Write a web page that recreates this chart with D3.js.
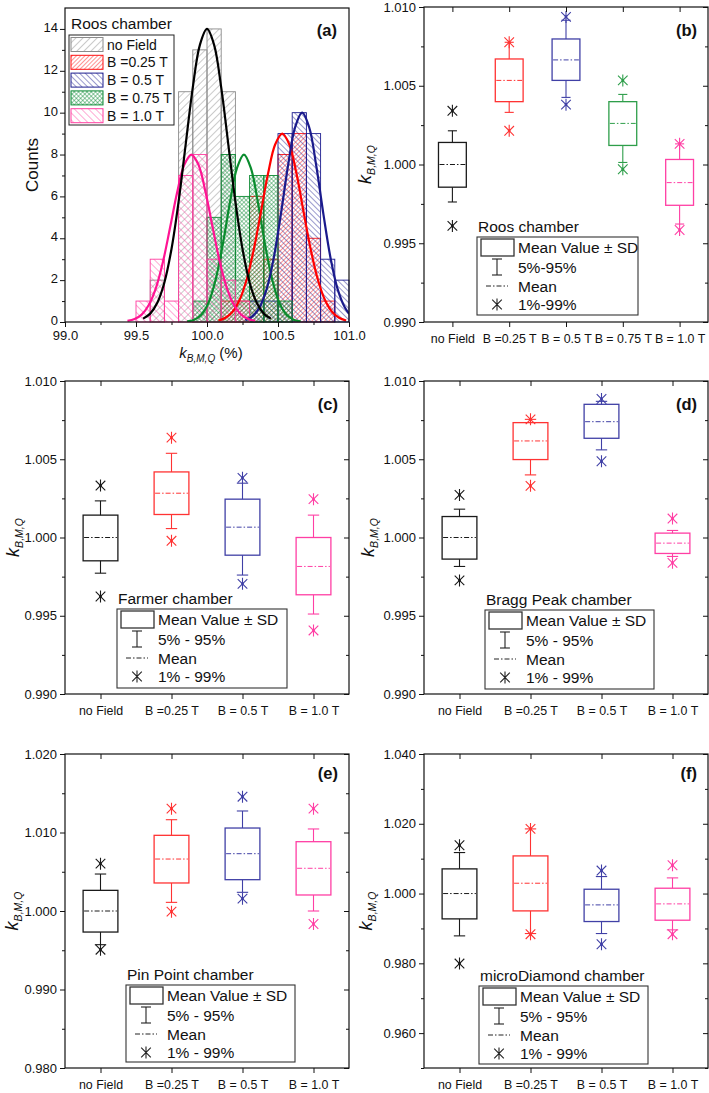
<!DOCTYPE html>
<html><head><meta charset="utf-8">
<script src="https://cdn.jsdelivr.net/npm/d3@7"></script>
<style>
body{margin:0;background:#fff}
svg{display:block}
text{font-family:"Liberation Sans",Arial,Helvetica,sans-serif;fill:#111}
</style>
</head><body>
<svg id="chart" width="709" height="1093"></svg>
<script>
// ================= DATA =================
// ---- (a) histogram, Roos chamber
const histSeries = ["no Field", "B =0.25 T", "B = 0.5 T", "B = 0.75 T", "B = 1.0 T"];
const binStarts = [99.5, 99.6, 99.7, 99.8, 99.9, 100.0, 100.1, 100.2, 100.3, 100.4, 100.5, 100.6, 100.7, 100.8, 100.9];
const binWidth = 0.1;
const countsNoField = [0, 2, 0, 11, 13, 14, 11, 2, 1, 0, 0, 0, 0, 0, 0];
const counts025T   = [0, 0, 0, 0, 0, 0, 1, 1, 6, 3, 8, 9, 4, 1, 0];
const counts05T    = [0, 0, 0, 0, 0, 0, 0, 0, 1, 1, 9, 10, 9, 3, 2];
const counts075T   = [0, 0, 0, 0, 1, 5, 8, 6, 7, 7, 1, 0, 0, 0, 0];
const counts10T    = [1, 3, 1, 7, 8, 3, 2, 1, 0, 0, 0, 0, 0, 0, 0];

// Gaussian fit curves (x in %, y in counts)
const fitXNoField = [99.55,99.60,99.65,99.70,99.75,99.80,99.85,99.90,99.95,100.00,100.05,100.10,100.15,100.20,100.25,100.30,100.35,100.40,100.45];
const fitYNoField = [0.16,0.40,0.92,1.89,3.49,5.75,8.49,11.21,13.24,14.0,13.24,11.21,8.49,5.75,3.49,1.89,0.92,0.40,0.16];
const fitX10T = [99.44,99.49,99.54,99.59,99.64,99.69,99.74,99.79,99.84,99.89,99.94,99.99,100.04,100.09,100.14,100.19,100.24,100.29,100.34];
const fitY10T = [0.05,0.14,0.35,0.81,1.62,2.88,4.51,6.20,7.51,8.0,7.51,6.20,4.51,2.88,1.62,0.81,0.35,0.14,0.05];
const fitX075T = [99.86,99.91,99.96,100.01,100.06,100.11,100.16,100.21,100.26,100.31,100.36,100.41,100.46,100.51,100.56,100.61,100.66];
const fitY075T = [0.03,0.11,0.35,0.91,2.0,3.66,5.65,7.33,8.0,7.33,5.65,3.66,2.0,0.91,0.35,0.11,0.03];
const fitX025T = [100.08,100.13,100.18,100.23,100.28,100.33,100.38,100.43,100.48,100.53,100.58,100.63,100.68,100.73,100.78,100.83,100.88,100.93,100.98];
const fitY025T = [0.07,0.20,0.49,1.06,2.04,3.48,5.27,7.09,8.48,9.0,8.48,7.09,5.27,3.48,2.04,1.06,0.49,0.20,0.07];
const fitX05T = [100.27,100.32,100.37,100.42,100.47,100.52,100.57,100.62,100.67,100.72,100.77,100.82,100.87,100.92,100.97,101.0];
const fitY05T = [0.09,0.27,0.70,1.57,3.06,5.14,7.44,9.29,10.0,9.29,7.44,5.14,3.06,1.57,0.70,0.40];

const histXTicks = [99.0, 99.5, 100.0, 100.5, 101.0];
const histYTicks = [0, 2, 4, 6, 8, 10, 12, 14];

// ---- box panels
const cats5 = ["no Field", "B =0.25 T", "B = 0.5 T", "B = 0.75 T", "B = 1.0 T"];
const cats4 = ["no Field", "B =0.25 T", "B = 0.5 T", "B = 1.0 T"];

// (b) Roos chamber
const roosSdLow  = [0.99856, 1.00399, 1.00534, 1.00121, 0.99741];
const roosSdHigh = [1.00140, 1.00670, 1.00797, 1.00399, 1.00032];
const roosMean   = [1.00000, 1.00534, 1.00664, 1.00261, 0.99885];
const roosP5     = [0.99762, 1.00331, 1.00426, 1.00013, 0.99622];
const roosP95    = [1.00214, 1.00776, 1.00916, 1.00445, 1.00131];
const roosP1     = [0.99610, 1.00214, 1.00380, 0.99970, 0.99584];
const roosP99    = [1.00341, 1.00776, 1.00937, 1.00534, 1.00131];

// (c) Farmer chamber
const farmerSdLow  = [0.99851, 1.00147, 0.99887, 0.99634];
const farmerSdHigh = [1.00143, 1.00419, 1.00245, 1.00000];
const farmerMean   = [1.00000, 1.00283, 1.00066, 0.99815];
const farmerP5     = [0.99772, 1.00057, 0.99760, 0.99511];
const farmerP95    = [1.00234, 1.00538, 1.00347, 1.00143];
const farmerP1     = [0.99623, 0.99979, 0.99704, 0.99406];
const farmerP99    = [1.00332, 1.00638, 1.00381, 1.00245];

// (d) Bragg Peak chamber
const braggSdLow  = [0.99862, 1.00498, 1.00634, 0.99898];
const braggSdHigh = [1.00134, 1.00734, 1.00851, 1.00028];
const braggMean   = [1.00000, 1.00617, 1.00740, 0.99964];
const braggP5     = [0.99815, 1.00400, 1.00560, 0.99879];
const braggP95    = [1.00181, 1.00755, 1.00870, 1.00045];
const braggP1     = [0.99726, 1.00330, 1.00487, 0.99838];
const braggP99    = [1.00272, 1.00755, 1.00885, 1.00121];

// (e) Pin Point chamber
const pinSdLow  = [0.99732, 1.00357, 1.00399, 1.00204];
const pinSdHigh = [1.00263, 1.00964, 1.01057, 1.00883];
const pinMean   = [1.00000, 1.00662, 1.00730, 1.00544];
const pinP5     = [0.99571, 1.00110, 1.00238, 1.00000];
const pinP95    = [1.00471, 1.01163, 1.01274, 1.01045];
const pinP1     = [0.99507, 0.99992, 1.00157, 0.99834];
const pinP99    = [1.00603, 1.01304, 1.01456, 1.01304];

// (f) microDiamond chamber
const diaSdLow  = [0.99274, 0.99503, 0.99198, 0.99236];
const diaSdHigh = [1.00707, 1.01079, 1.00124, 1.00153];
const diaMean   = [1.00000, 1.00296, 0.99675, 0.99704];
const diaP5     = [0.98787, 0.98854, 0.98854, 0.98959];
const diaP95    = [1.01175, 1.01853, 1.00487, 1.00449];
const diaP1     = [0.97994, 0.98835, 0.98548, 0.98835];
const diaP99    = [1.01385, 1.01853, 1.00659, 1.00812];

const ticksB = [0.990, 0.995, 1.000, 1.005, 1.010];
const minorB = [0.9925, 0.9975, 1.0025, 1.0075];
const ticksE = [0.980, 0.990, 1.000, 1.010, 1.020];
const minorE = [0.985, 0.995, 1.005, 1.015];
const ticksF = [0.960, 0.980, 1.000, 1.020, 1.040];
const minorF = [0.950, 0.970, 0.990, 1.010, 1.030];

const legendLabelsB = ["Mean Value \u00b1 SD", "5%-95%", "Mean", "1%-99%"];
const legendLabels  = ["Mean Value \u00b1 SD", "5% - 95%", "Mean", "1% - 99%"];

// ================= STYLE =================
const histColors  = ["#8a8a8a", "#ff1010", "#1e1e90", "#0d8a34", "#ff3fa0"];
const curveColors = ["#000000", "#ff0000", "#1a1a8c", "#0a8c2e", "#ff1493"];
const boxColors5 = ["#1a1a1a", "#ff3333", "#4040a6", "#2e9e4a", "#ff3fa4"];
const boxColors4 = ["#1a1a1a", "#ff3333", "#4040a6", "#ff3fa4"];

const svg = d3.select("#chart");
const defs = svg.append("defs");

function hatch(id, color, spacing, angle, cross, width) {
  const p = defs.append("pattern").attr("id", id)
    .attr("patternUnits", "userSpaceOnUse")
    .attr("width", spacing).attr("height", spacing)
    .attr("patternTransform", `rotate(${angle})`);
  p.append("line").attr("x1", 0).attr("y1", 0).attr("x2", 0).attr("y2", spacing)
    .attr("stroke", color).attr("stroke-width", width);
  if (cross) {
    p.append("line").attr("x1", 0).attr("y1", 0).attr("x2", spacing).attr("y2", 0)
      .attr("stroke", color).attr("stroke-width", width);
  }
}
hatch("h0", histColors[0], 5, 45, false, 0.9);
hatch("h1", histColors[1], 3, 45, false, 0.9);
hatch("h2", histColors[2], 4, -45, false, 0.9);
hatch("h3", histColors[3], 3, 45, true, 0.9);
hatch("h4", histColors[4], 5, -45, false, 0.9);

// ================= PANEL (a) =================
(function () {
  const X0 = 65, X1 = 349, Y0 = 8, Y1 = 322;
  const x = d3.scaleLinear().domain([99.0, 101.0]).range([X0, X1]);
  const y = d3.scaleLinear().domain([0, 15]).range([Y1, Y0]);
  const g = svg.append("g");
  defs.append("clipPath").attr("id", "clipA").append("rect")
    .attr("x", X0).attr("y", Y0).attr("width", X1 - X0).attr("height", Y1 - Y0);

  const allCounts = [countsNoField, counts025T, counts05T, counts075T, counts10T];
  allCounts.forEach((counts, si) => {
    const data = binStarts.map((b, i) => ({ b, c: counts[i] })).filter(d => d.c > 0);
    g.append("g").selectAll("rect").data(data).join("rect")
      .attr("x", d => x(d.b)).attr("width", d => x(d.b + binWidth) - x(d.b))
      .attr("y", d => y(d.c)).attr("height", d => y(0) - y(d.c))
      .attr("fill", `url(#h${si})`).attr("stroke", histColors[si]).attr("stroke-width", 0.9);
  });

  const fits = [
    [fitXNoField, fitYNoField, 0], [fitX025T, fitY025T, 1], [fitX05T, fitY05T, 2],
    [fitX075T, fitY075T, 3], [fitX10T, fitY10T, 4]
  ];
  const line = d3.line().x(d => x(d[0])).y(d => y(d[1])).curve(d3.curveCatmullRom);
  const order = [3, 1, 2, 4, 0];
  order.forEach(k => {
    const f = fits[k];
    g.append("path").datum(f[0].map((v, i) => [v, f[1][i]]))
      .attr("d", line).attr("fill", "none").attr("stroke", curveColors[f[2]])
      .attr("stroke-width", 2.2).attr("clip-path", "url(#clipA)");
  });

  // axes
  const ax = g.append("g").attr("transform", `translate(0,${Y1})`)
    .call(d3.axisBottom(x).tickValues(histXTicks).tickFormat(d3.format(".1f")).tickSize(5));
  g.append("g").attr("transform", `translate(0,${Y1})`)
    .call(d3.axisBottom(x).tickValues([99.25, 99.75, 100.25, 100.75]).tickFormat("").tickSize(3));
  const ay = g.append("g").attr("transform", `translate(${X0},0)`)
    .call(d3.axisLeft(y).tickValues(histYTicks).tickFormat(d3.format("d")).tickSize(5));
  g.append("g").attr("transform", `translate(${X0},0)`)
    .call(d3.axisLeft(y).tickValues([1, 3, 5, 7, 9, 11, 13]).tickFormat("").tickSize(3));
  g.selectAll(".domain").remove();
  g.selectAll(".tick line").attr("stroke", "#111").attr("stroke-width", 1);
  ax.selectAll("text").attr("font-size", 13).attr("dy", null).attr("y", 18).attr("fill", "#111");
  ay.selectAll("text").attr("font-size", 13).attr("x", -7).attr("dy", "0.2em").attr("fill", "#111");
  g.append("rect").attr("x", X0).attr("y", Y0).attr("width", X1 - X0).attr("height", Y1 - Y0)
    .attr("fill", "none").attr("stroke", "#111").attr("stroke-width", 1.2);

  // labels
  g.append("text").attr("transform", `translate(38,165) rotate(-90)`).attr("text-anchor", "middle")
    .attr("font-size", 17).text("Counts");
  const xl = g.append("text").attr("x", 211).attr("y", 358).attr("text-anchor", "middle").attr("font-size", 15);
  xl.append("tspan").attr("font-style", "italic").text("k");
  xl.append("tspan").attr("font-style", "italic").attr("font-size", 10).attr("dy", 4).text("B,M,Q");
  xl.append("tspan").attr("dy", -4).text(" (%)");
  g.append("text").attr("x", 337).attr("y", 36).attr("text-anchor", "end")
    .attr("font-size", 16.5).attr("font-weight", "bold").text("(a)");

  // legend
  g.append("text").attr("x", 71).attr("y", 29).attr("font-size", 15.5).text("Roos chamber");
  g.append("rect").attr("x", 69).attr("y", 35).attr("width", 105).attr("height", 90)
    .attr("fill", "#fff").attr("stroke", "#222").attr("stroke-width", 1);
  histSeries.forEach((s, i) => {
    const cy = 44.5 + i * 17.8;
    g.append("rect").attr("x", 71).attr("y", cy - 7).attr("width", 32).attr("height", 14)
      .attr("fill", `url(#h${i})`).attr("stroke", histColors[i]).attr("stroke-width", 1);
    g.append("text").attr("x", 107).attr("y", cy + 5).attr("font-size", 14).text(s);
  });
})();

// ================= BOX PANELS =================
function star(g, cx, cy, r, color, dot) {
  const a = r * 0.8;
  g.append("path").attr("d",
    `M${cx},${cy - r}L${cx},${cy + r}M${cx - a},${cy - a}L${cx + a},${cy + a}M${cx - a},${cy + a}L${cx + a},${cy - a}`)
    .attr("stroke", color).attr("stroke-width", 1.1).attr("fill", "none");
  if (dot) g.append("circle").attr("cx", cx).attr("cy", cy).attr("r", 1.4).attr("fill", color);
}

function boxPanel(o) {
  const g = svg.append("g");
  const x = d3.scalePoint().domain(o.cats).range([o.X0, o.X1]).padding(0.5);
  const y = d3.scaleLinear().domain(o.domain).range([o.Y1, o.Y0]);
  const step = x.step();
  const bw = step * 0.49;
  const cap = step * 0.16;

  o.cats.forEach((c, i) => {
    const cx = x(c), col = o.colors[i];
    const gg = g.append("g");
    gg.append("line").attr("x1", cx).attr("x2", cx).attr("y1", y(o.sdHigh[i])).attr("y2", y(o.p95[i]))
      .attr("stroke", col).attr("stroke-width", 1.1);
    gg.append("line").attr("x1", cx).attr("x2", cx).attr("y1", y(o.sdLow[i])).attr("y2", y(o.p5[i]))
      .attr("stroke", col).attr("stroke-width", 1.1);
    [o.p95[i], o.p5[i]].forEach(v => gg.append("line").attr("x1", cx - cap / 2).attr("x2", cx + cap / 2)
      .attr("y1", y(v)).attr("y2", y(v)).attr("stroke", col).attr("stroke-width", 1.1));
    gg.append("rect").attr("x", cx - bw / 2).attr("width", bw)
      .attr("y", y(o.sdHigh[i])).attr("height", y(o.sdLow[i]) - y(o.sdHigh[i]))
      .attr("fill", "none").attr("stroke", col).attr("stroke-width", 1.3);
    gg.append("line").attr("x1", cx - bw / 2 + 1).attr("x2", cx + bw / 2 - 1)
      .attr("y1", y(o.mean[i])).attr("y2", y(o.mean[i]))
      .attr("stroke", col).attr("stroke-width", 1).attr("stroke-dasharray", "5,2,1.5,2");
    star(gg, cx, y(o.p1[i]), 6, col, true);
    star(gg, cx, y(o.p99[i]), 6, col, true);
  });

  const ay = g.append("g").attr("transform", `translate(${o.X0},0)`)
    .call(d3.axisLeft(y).tickValues(o.ticks).tickFormat(d3.format(".3f")).tickSize(5));
  g.append("g").attr("transform", `translate(${o.X0},0)`)
    .call(d3.axisLeft(y).tickValues(o.minor).tickFormat("").tickSize(3));
  g.append("g").attr("transform", `translate(${o.X1},0)`)
    .call(d3.axisLeft(y).tickValues(o.ticks).tickFormat("").tickSize(5));
  g.append("g").attr("transform", `translate(${o.X1},0)`)
    .call(d3.axisLeft(y).tickValues(o.minor).tickFormat("").tickSize(3));
  const ax = g.append("g").attr("transform", `translate(0,${o.Y1})`)
    .call(d3.axisBottom(x).tickSize(5));
  g.append("g").attr("transform", `translate(0,${o.Y0})`)
    .call(d3.axisBottom(x).tickFormat("").tickSize(5));
  g.selectAll(".domain").remove();
  g.selectAll(".tick line").attr("stroke", "#111").attr("stroke-width", 1);
  ay.selectAll("text").attr("font-size", 13).attr("x", -8).attr("fill", "#111");
  ax.selectAll("text").attr("font-size", 12.4).attr("dy", null).attr("y", 21).attr("fill", "#111");
  g.append("rect").attr("x", o.X0).attr("y", o.Y0).attr("width", o.X1 - o.X0).attr("height", o.Y1 - o.Y0)
    .attr("fill", "none").attr("stroke", "#111").attr("stroke-width", 1.2);

  const my = (o.Y0 + o.Y1) / 2;
  const yl = g.append("text").attr("transform", `translate(${o.ylx},${my}) rotate(-90)`)
    .attr("text-anchor", "middle").attr("font-size", 18);
  yl.append("tspan").attr("font-style", "italic").text("k");
  yl.append("tspan").attr("font-style", "italic").attr("font-size", 10.5).attr("dy", 4).text("B,M,Q");

  g.append("text").attr("x", o.X1 - 11).attr("y", o.lblY).attr("text-anchor", "end")
    .attr("font-size", 16.5).attr("font-weight", "bold").text(o.label);

  const L = o.leg;
  g.append("text").attr("x", L.x + 1).attr("y", L.y - 5).attr("font-size", 15.5).text(o.title);
  g.append("rect").attr("x", L.x).attr("y", L.y).attr("width", L.w).attr("height", L.h)
    .attr("fill", "#fff").attr("stroke", "#333").attr("stroke-width", 1.1);
  const rows = [L.y + 10.5, L.y + 30, L.y + 49, L.y + 67.5];
  const sx = L.x + 20;
  g.append("rect").attr("x", L.x + 4).attr("y", rows[0] - 8.5).attr("width", 33).attr("height", 17)
    .attr("fill", "none").attr("stroke", "#333").attr("stroke-width", 1.3);
  g.append("line").attr("x1", sx).attr("x2", sx).attr("y1", rows[1] - 8).attr("y2", rows[1] + 8)
    .attr("stroke", "#222").attr("stroke-width", 1.1);
  [rows[1] - 8, rows[1] + 8].forEach(v => g.append("line").attr("x1", sx - 5).attr("x2", sx + 5)
    .attr("y1", v).attr("y2", v).attr("stroke", "#222").attr("stroke-width", 1.1));
  g.append("line").attr("x1", sx - 11).attr("x2", sx + 11).attr("y1", rows[2]).attr("y2", rows[2])
    .attr("stroke", "#222").attr("stroke-width", 1).attr("stroke-dasharray", "5,2,1.5,2");
  star(g, sx, rows[3], 6, "#222", false);
  o.legendLabels.forEach((t, i) => {
    g.append("text").attr("x", L.x + 41).attr("y", rows[i] + 5.5).attr("font-size", 15.5).text(t);
  });
}

boxPanel({ X0: 424, X1: 708, Y0: 7, Y1: 322, domain: [0.990, 1.010], ticks: ticksB, minor: minorB,
  cats: cats5, colors: boxColors5, sdLow: roosSdLow, sdHigh: roosSdHigh, mean: roosMean,
  p5: roosP5, p95: roosP95, p1: roosP1, p99: roosP99, title: "Roos chamber",
  legendLabels: legendLabelsB, leg: { x: 477, y: 237, w: 161, h: 78 }, label: "(b)", lblY: 36, ylx: 371 });

boxPanel({ X0: 65, X1: 349, Y0: 381, Y1: 694, domain: [0.990, 1.010], ticks: ticksB, minor: minorB,
  cats: cats4, colors: boxColors4, sdLow: farmerSdLow, sdHigh: farmerSdHigh, mean: farmerMean,
  p5: farmerP5, p95: farmerP95, p1: farmerP1, p99: farmerP99, title: "Farmer chamber",
  legendLabels: legendLabels, leg: { x: 117, y: 609, w: 170, h: 79 }, label: "(c)", lblY: 410, ylx: 19 });

boxPanel({ X0: 424, X1: 708, Y0: 381, Y1: 694, domain: [0.990, 1.010], ticks: ticksB, minor: minorB,
  cats: cats4, colors: boxColors4, sdLow: braggSdLow, sdHigh: braggSdHigh, mean: braggMean,
  p5: braggP5, p95: braggP95, p1: braggP1, p99: braggP99, title: "Bragg Peak chamber",
  legendLabels: legendLabels, leg: { x: 485, y: 610, w: 169, h: 79 }, label: "(d)", lblY: 410, ylx: 374 });

boxPanel({ X0: 65, X1: 349, Y0: 754, Y1: 1068, domain: [0.980, 1.020], ticks: ticksE, minor: minorE,
  cats: cats4, colors: boxColors4, sdLow: pinSdLow, sdHigh: pinSdHigh, mean: pinMean,
  p5: pinP5, p95: pinP95, p1: pinP1, p99: pinP99, title: "Pin Point chamber",
  legendLabels: legendLabels, leg: { x: 126, y: 985, w: 169, h: 77 }, label: "(e)", lblY: 779, ylx: 18 });

boxPanel({ X0: 424, X1: 708, Y0: 754, Y1: 1068, domain: [0.950, 1.040], ticks: ticksF, minor: minorF,
  cats: cats4, colors: boxColors4, sdLow: diaSdLow, sdHigh: diaSdHigh, mean: diaMean,
  p5: diaP5, p95: diaP95, p1: diaP1, p99: diaP99, title: "microDiamond chamber",
  legendLabels: legendLabels, leg: { x: 479, y: 986, w: 169, h: 78 }, label: "(f)", lblY: 779, ylx: 372 });
</script>
</body></html>
